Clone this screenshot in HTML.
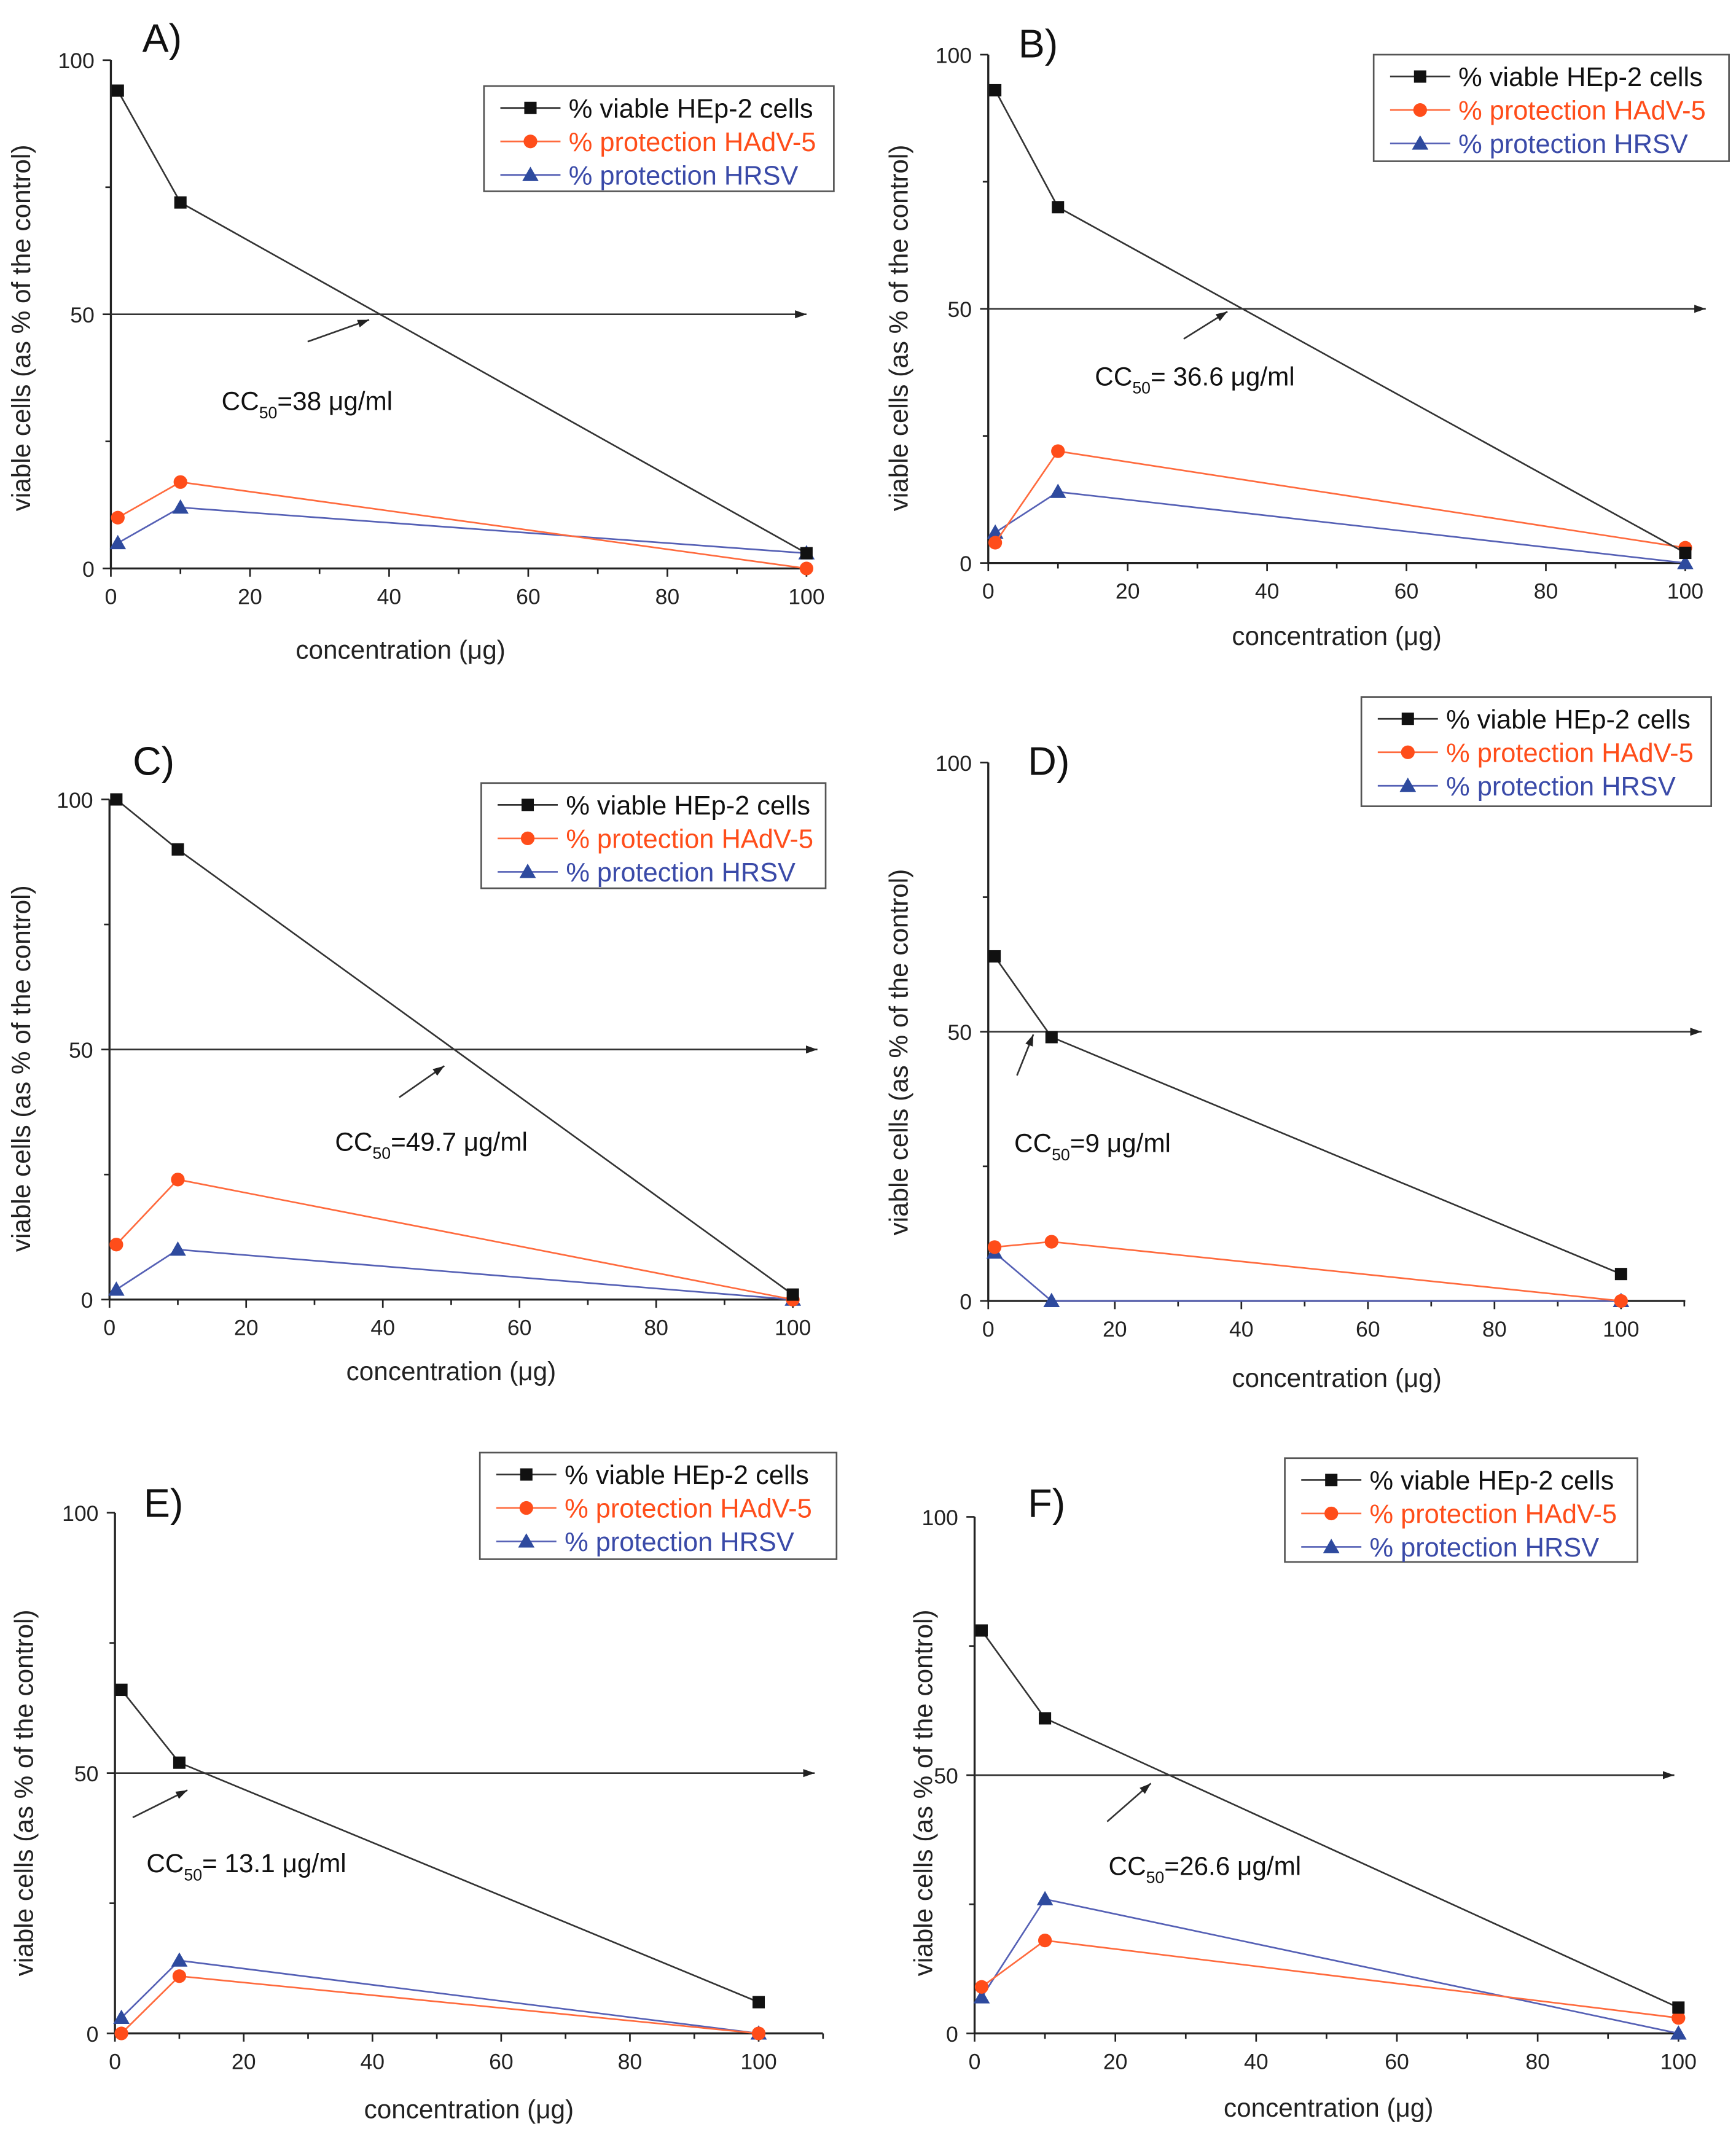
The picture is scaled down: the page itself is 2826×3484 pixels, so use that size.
<!DOCTYPE html>
<html><head><meta charset="utf-8"><style>
html,body{margin:0;padding:0;background:#fff;}
svg{display:block;}
text{font-family:"Liberation Sans",sans-serif;}
</style></head><body>
<svg id="fig" width="2826" height="3484" viewBox="0 0 1270 1566" xmlns="http://www.w3.org/2000/svg">
<defs><marker id="ah" viewBox="0 0 10 10" refX="10" refY="5" markerWidth="7" markerHeight="7" orient="auto"><path d="M0,1.5 L10,5 L0,8.5 z" fill="#222"/></marker></defs>
</svg>
<script>
const concentrations = [1, 10, 100];
const viableA = [94, 72, 3];   const hadvA = [10, 17, 0];  const hrsvA = [5, 12, 3];
const viableB = [93, 70, 2];   const hadvB = [4, 22, 3];   const hrsvB = [6, 14, 0];
const viableC = [100, 90, 1];  const hadvC = [11, 24, 0];  const hrsvC = [2, 10, 0];
const viableD = [64, 49, 5];   const hadvD = [10, 11, 0];  const hrsvD = [9, 0, 0];
const viableE = [66, 52, 6];   const hadvE = [0, 11, 0];   const hrsvE = [3, 14, 0];
const viableF = [78, 61, 5];   const hadvF = [9, 18, 3];   const hrsvF = [7, 26, 0];
const panelLabels = ["A)", "B)", "C)", "D)", "E)", "F)"];
const cc50Values = ["=38 μg/ml", "= 36.6 μg/ml", "=49.7 μg/ml", "=9 μg/ml", "= 13.1 μg/ml", "=26.6 μg/ml"];
const xTickLabels = [0, 20, 40, 60, 80, 100];
const yTickLabels = [0, 50, 100];

const layouts = [
 {x0:81,x100:590,xEnd:590,y0:416,y100:44,arrowEnd:590,a:[225,250,270,234],t:[162,300],leg:[354,63,256,77],lab:[104,38],yt:[22,240],xt:[293,482]},
 {x0:723,x100:1233,xEnd:1233,y0:412,y100:40,arrowEnd:1248,a:[866,248,898,228],t:[801,282],leg:[1005,40,260,78],lab:[745,42],yt:[664,240],xt:[978,472]},
 {x0:80,x100:580,xEnd:580,y0:951,y100:585,arrowEnd:598,a:[292,803,325,780],t:[245,842],leg:[352,573,252,77],lab:[97,567],yt:[22,782],xt:[330,1010]},
 {x0:723,x100:1186,xEnd:1233,y0:952,y100:558,arrowEnd:1245,a:[744,787,756,757],t:[742,843],leg:[996,510,256,80],lab:[752,567],yt:[664,770],xt:[978,1015]},
 {x0:84,x100:555,xEnd:602,y0:1488,y100:1107,arrowEnd:596,a:[97,1330,137,1310],t:[107,1370],leg:[351,1063,261,78],lab:[105,1110],yt:[24,1312],xt:[343,1550]},
 {x0:713,x100:1228,xEnd:1228,y0:1488,y100:1110,arrowEnd:1225,a:[810,1333,842,1305],t:[811,1372],leg:[940,1067,258,76],lab:[752,1110],yt:[682,1312],xt:[972,1549]}
];
const series = [[viableA,hadvA,hrsvA],[viableB,hadvB,hrsvB],[viableC,hadvC,hrsvC],[viableD,hadvD,hrsvD],[viableE,hadvE,hrsvE],[viableF,hadvF,hrsvF]];
const colors = ["#333", "#ff6a3d", "#5560b5"];
const mcol = ["#111", "#ff4d1a", "#2e4a9e"];
const names = ["% viable HEp-2 cells", "% protection HAdV-5", "% protection HRSV"];
const tcol = ["#111", "#ff4d1a", "#3a4aa8"];

const svg = document.getElementById('fig');
const NS = "http://www.w3.org/2000/svg";
function mk(tag, attrs, parent){const e=document.createElementNS(NS,tag);for(const k in attrs)e.setAttribute(k,attrs[k]);(parent||svg).appendChild(e);return e;}
function marker(g, k, x, y, name){
  let m;
  if(k===0) m=mk('rect',{x:x-4.5,y:y-4.5,width:9,height:9,fill:mcol[0]},g);
  else if(k===1) m=mk('circle',{cx:x,cy:y,r:5,fill:mcol[1]},g);
  else m=mk('path',{d:`M${x},${y-6} L${x+6},${y+4.5} L${x-6},${y+4.5} Z`,fill:mcol[2]},g);
  
  
}
layouts.forEach((L,p)=>{
  const g = mk('g',{});
  
  
  const sx = v => L.x0 + (L.x100-L.x0)*v/100;
  const sy = v => L.y0 - (L.y0-L.y100)*v/100;
  // axes
  const ya = mk('line',{x1:L.x0,y1:L.y0,x2:L.x0,y2:L.y100,stroke:'#222','stroke-width':1.5},g);
   
  const xa = mk('line',{x1:L.x0,y1:L.y0,x2:L.xEnd,y2:L.y0,stroke:'#222','stroke-width':1.5},g);
   
  const xmax = 100*(L.xEnd-L.x0)/(L.x100-L.x0);
  for(let v=0; v<=xmax+0.1; v+=10){
    mk('line',{x1:sx(v),y1:L.y0,x2:sx(v),y2:L.y0+(v%20===0?6:4),stroke:'#222','stroke-width':1.2},g);
  }
  xTickLabels.forEach(v=>{const t=mk('text',{x:sx(v),y:L.y0+26,'text-anchor':'middle','font-size':16,fill:'#222'},g);t.textContent=v;
    });
  [0,25,50,75,100].forEach(v=>mk('line',{x1:L.x0,y1:sy(v),x2:L.x0-(v%50===0?6:4),y2:sy(v),stroke:'#222','stroke-width':1.2},g));
  yTickLabels.forEach(v=>{const t=mk('text',{x:L.x0-12,y:sy(v)+6,'text-anchor':'end','font-size':16,fill:'#222'},g);t.textContent=v;
    });
  const yt=mk('text',{x:L.yt[0],y:L.yt[1],transform:`rotate(-90 ${L.yt[0]} ${L.yt[1]})`,'text-anchor':'middle','font-size':19,fill:'#222'},g);
  yt.textContent='viable cells (as % of the control)';
   
  const xt=mk('text',{x:L.xt[0],y:L.xt[1],'text-anchor':'middle','font-size':19,fill:'#222'},g);
  xt.textContent='concentration (μg)';
   
  const lb=mk('text',{x:L.lab[0],y:L.lab[1],'font-size':29,fill:'#111'},g);
  lb.textContent=panelLabels[p];
   
  // cc50 line
  const hl=mk('line',{x1:L.x0,y1:sy(50),x2:L.arrowEnd,y2:sy(50),stroke:'#333','stroke-width':1.2,'marker-end':'url(#ah)'},g);
   
  const sa=mk('line',{x1:L.a[0],y1:L.a[1],x2:L.a[2],y2:L.a[3],stroke:'#333','stroke-width':1.2,'marker-end':'url(#ah)'},g);
   
  const ct=mk('text',{x:L.t[0],y:L.t[1],'font-size':19,fill:'#111'},g);
   
  ct.innerHTML = 'CC<tspan font-size="12" dy="6">50</tspan><tspan dy="-6">'+cc50Values[p]+'</tspan>';
  // series (draw blue, orange, then black)
  [2,1,0].forEach(k=>{
    const vals=series[p][k];
    const pl=mk('polyline',{points:concentrations.map((c,i)=>sx(c)+','+sy(vals[i])).join(' '),fill:'none',stroke:colors[k],'stroke-width':1.2},g);
     
    concentrations.forEach((c,i)=>marker(g,k,sx(c),sy(vals[i]),'point-'+['viable','hadv5','hrsv'][k]));
  });
  // legend
  const [lx,ly,lw,lh]=L.leg;
  const lg=mk('g',{},g);  
  mk('rect',{x:lx,y:ly,width:lw,height:lh,fill:'#fff',stroke:'#555','stroke-width':1.2},lg);
  names.forEach((n,k)=>{
    const yy=ly+16+k*24.5;
    mk('line',{x1:lx+12,y1:yy,x2:lx+56,y2:yy,stroke:colors[k],'stroke-width':1.2},lg);
    marker(lg,k,lx+34,yy,'legend-marker');
    const t=mk('text',{x:lx+62,y:yy+7,'font-size':19.5,fill:tcol[k]},lg); t.textContent=n;
     
  });
});
</script>
</body></html>
